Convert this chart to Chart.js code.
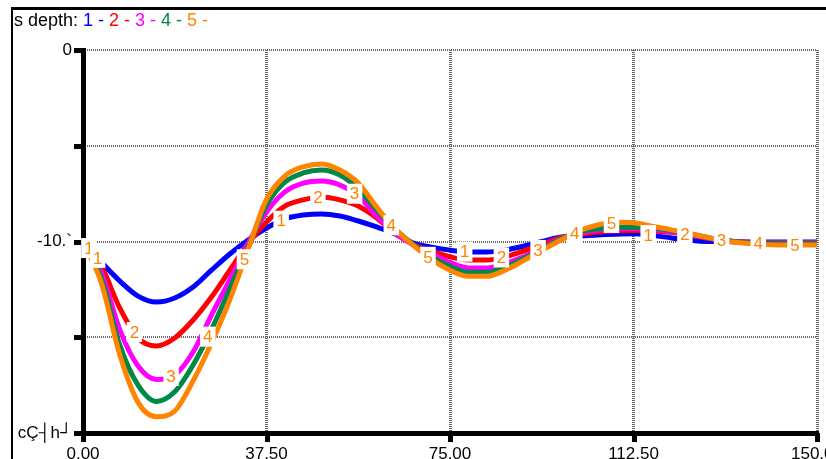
<!DOCTYPE html>
<html>
<head>
<meta charset="utf-8">
<script src="https://cdn.jsdelivr.net/npm/chart.js@4.4.0/dist/chart.umd.min.js"></script>
<style>
html, body { margin: 0; padding: 0; background: #fff; }
canvas { display: block; }
</style>
</head>
<body>
<canvas id="depthChart" width="826" height="459"></canvas>
<script>
// x positions of the samples
const xValues = [0, 3.75, 7.5, 11.25, 15, 18.75, 22.5, 26.25, 30, 33.75,
    37.5, 41.25, 45, 48.75, 52.5, 56.25, 60, 63.75,
    67.5, 71.25, 75, 78.75, 82.5, 86.25, 90, 93.75, 97.5,
    101.25, 105, 108.75, 112.5, 116.25, 120, 123.75, 127.5,
    131.25, 135, 138.75, 142.5, 146.25, 150];

const depth1 = [-10, -11.07, -12.06, -12.85, -13.16, -12.95, -12.38, -11.5, -10.65, -9.92,
    -9.3, -8.82, -8.62, -8.56, -8.67, -8.93, -9.24, -9.6,
    -10.08, -10.3, -10.45, -10.55, -10.55, -10.45, -10.25, -10.0, -9.78,
    -9.72, -9.66, -9.62, -9.6, -9.68, -9.8, -9.93, -10.0,
    -10.0, -10.02, -10.02, -10.02, -10.02, -10.02];
const depth2 = [-10, -11.28, -13.47, -15.04, -15.46, -15.04, -14.1, -12.9, -11.5, -10.1,
    -8.98, -8.15, -7.83, -7.68, -7.83, -8.15, -8.77, -9.56,
    -10.15, -10.5, -10.8, -10.97, -10.97, -10.8, -10.5, -10.15, -9.8,
    -9.65, -9.52, -9.45, -9.42, -9.45, -9.52, -9.65, -9.82,
    -9.95, -10.03, -10.06, -10.06, -10.06, -10.06];
const depth3 = [-10, -11.6, -14.6, -16.5, -17.2, -16.97, -15.77, -13.84, -12.0, -10.1,
    -8.46, -7.41, -6.95, -6.84, -7.05, -7.62, -8.67, -9.56,
    -10.18, -10.65, -11.1, -11.38, -11.38, -11.15, -10.8, -10.35, -9.85,
    -9.6, -9.42, -9.35, -9.32, -9.38, -9.48, -9.62, -9.8,
    -9.95, -10.05, -10.08, -10.08, -10.08, -10.08];
const depth4 = [-10, -11.9, -15.4, -17.5, -18.35, -17.85, -16.45, -14.6, -12.48, -10.3,
    -8.1, -6.9, -6.42, -6.27, -6.53, -7.26, -8.36, -9.35,
    -10.15, -10.8, -11.3, -11.6, -11.6, -11.35, -10.9, -10.4, -9.88,
    -9.52, -9.35, -9.27, -9.25, -9.3, -9.42, -9.58, -9.78,
    -9.95, -10.05, -10.1, -10.1, -10.1, -10.1];
const depth5 = [-10, -12.17, -15.9, -18.4, -19.15, -18.85, -17.28, -15.3, -13.05, -10.4,
    -7.8, -6.58, -6.1, -5.95, -6.27, -6.95, -8.2, -9.35,
    -10.2, -10.95, -11.5, -11.82, -11.82, -11.5, -11.0, -10.45, -9.95,
    -9.45, -9.15, -9.0, -9.02, -9.2, -9.38, -9.58, -9.78,
    -9.97, -10.08, -10.15, -10.18, -10.18, -10.18];

const seriesNames = ['1', '2', '3', '4', '5'];
const seriesColors = ['#0000ff', '#ff0000', '#ff00ff', '#008848', '#ff8400'];
const seriesData = [depth1, depth2, depth3, depth4, depth5];

const xTickValues = [0, 37.5, 75, 112.5, 150];
const xTickLabels = ['0.00', '37.50', '75.00', '112.50', '150.00'];
const yTickValues = [0, -5, -10, -15, -20];
const yTickLabels = ['0', '', '-10.`', '', 'cÇ┤h┘'];

// little numbered markers sitting on the curves
const markerX = [1.2, 3, 10.5, 18, 25.5, 33, 40.5, 48, 55.5, 63, 70.5,
    78, 85.5, 93, 100.5, 108, 115.5, 123, 130.5, 138, 145.5];
const markerSeries = [0, 0, 1, 2, 3, 4, 0, 1, 2, 3, 4,
    0, 1, 2, 3, 4, 0, 1, 2, 3, 4];

const FONT = "'Liberation Sans', Arial, sans-serif";

function valueAt(data, x) {
    for (let i = 1; i < xValues.length; i++) {
        if (x <= xValues[i]) {
            const t = (x - xValues[i - 1]) / (xValues[i] - xValues[i - 1]);
            return data[i - 1] + t * (data[i] - data[i - 1]);
        }
    }
    return data[data.length - 1];
}

const framePlugin = {
    id: 'frame',
    beforeDatasetsDraw(chart) {
        const ctx = chart.ctx;
        const a = chart.chartArea;
        const xs = chart.scales.x, ys = chart.scales.y;
        ctx.save();
        ctx.fillStyle = '#000';
        // outer box
        ctx.fillRect(11, 7, 815, 3);
        ctx.fillRect(11, 7, 2, 452);
        // axes
        ctx.fillRect(a.left - 2, a.top - 2, 5, a.bottom - a.top + 5);
        ctx.fillRect(a.left - 2, a.bottom - 2, a.right - a.left + 4, 5);
        yTickValues.forEach(v => {
            const y = Math.round(ys.getPixelForValue(v));
            ctx.fillRect(a.left - 9, y - 2, 9, 5);
        });
        xTickValues.forEach(v => {
            const x = Math.round(xs.getPixelForValue(v));
            ctx.fillRect(x - 2, a.bottom, 5, 9);
        });
        ctx.restore();
    },
    afterDatasetsDraw(chart) {
        const ctx = chart.ctx;
        const xs = chart.scales.x, ys = chart.scales.y;
        ctx.save();
        ctx.font = '17px ' + FONT;
        ctx.textAlign = 'center';
        ctx.textBaseline = 'middle';
        markerX.forEach((mx, i) => {
            const s = markerSeries[i];
            const px = xs.getPixelForValue(mx);
            const py = ys.getPixelForValue(valueAt(seriesData[s], mx));
            const txt = seriesNames[s];
            const w = ctx.measureText(txt).width;
            ctx.fillStyle = '#fff';
            ctx.fillRect(px - w / 2 - 3, py - 10, w + 6, 20);
            ctx.fillStyle = seriesColors[4];
            ctx.fillText(txt, px, py + 1);
        });
        // legend line at the top
        ctx.textAlign = 'left';
        ctx.font = '18px ' + FONT;
        let x = 14;
        ctx.fillStyle = '#000';
        ctx.fillText('s depth: ', x, 21);
        x += ctx.measureText('s depth: ').width;
        seriesNames.forEach((n, i) => {
            const piece = n + ' - ';
            ctx.fillStyle = seriesColors[i];
            ctx.fillText(piece, x, 21);
            x += ctx.measureText(piece).width;
        });
        ctx.restore();
    }
};

const ctx = document.getElementById('depthChart').getContext('2d');
new Chart(ctx, {
    type: 'line',
    data: {
        labels: xValues,
        datasets: seriesData.map((d, i) => ({
            label: seriesNames[i],
            data: d.map((v, j) => ({ x: xValues[j], y: v })),
            borderColor: seriesColors[i],
            borderWidth: 5,
            pointRadius: 0,
            fill: false,
            cubicInterpolationMode: 'monotone',
            order: 5 - i
        }))
    },
    options: {
        responsive: false,
        animation: false,
        devicePixelRatio: 1,
        layout: { padding: { top: 50, right: 9, left: 0, bottom: 0 } },
        plugins: { legend: { display: false }, tooltip: { enabled: false } },
        scales: {
            x: {
                type: 'linear',
                min: 0,
                max: 150,
                afterBuildTicks: s => { s.ticks = xTickValues.map(v => ({ value: v })); },
                afterFit: s => { s.height = 26; s.paddingLeft = 0; s.paddingRight = 0; },
                ticks: {
                    padding: 11,
                    maxRotation: 0,
                    autoSkip: false,
                    color: '#000',
                    font: { family: FONT, size: 17 },
                    callback: v => xTickLabels[xTickValues.indexOf(v)]
                },
                grid: { color: '#666', lineWidth: 3, drawTicks: false },
                border: { display: false, dash: [1, 1] }
            },
            y: {
                min: -20,
                max: 0,
                afterBuildTicks: s => { s.ticks = yTickValues.map(v => ({ value: v })); },
                afterFit: s => { s.width = 83; s.paddingTop = 0; s.paddingBottom = 0; },
                ticks: {
                    padding: 11,
                    autoSkip: false,
                    color: '#000',
                    font: { family: FONT, size: 17 },
                    callback: v => yTickLabels[yTickValues.indexOf(v)]
                },
                grid: { color: '#666', lineWidth: 2, drawTicks: false },
                border: { display: false, dash: [1, 1] }
            }
        }
    },
    plugins: [framePlugin]
});
</script>
</body>
</html>
